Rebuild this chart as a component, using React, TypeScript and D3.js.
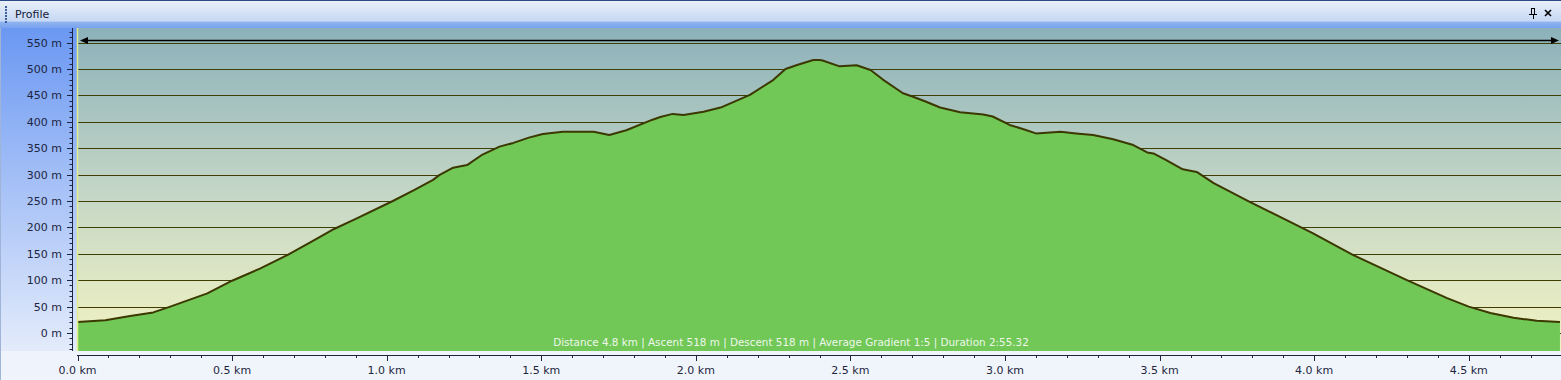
import React from "react";
import * as d3 from "d3";

const distKm = [
  0.0, 0.09, 0.17, 0.245, 0.3, 0.42, 0.5, 0.59, 0.68, 0.76, 0.83, 0.9, 1.02, 1.09, 1.15, 1.17,
  1.215, 1.26, 1.31, 1.365, 1.41, 1.46, 1.505, 1.57, 1.67, 1.72, 1.775, 1.86, 1.885, 1.925, 1.96,
  2.025, 2.08, 2.175, 2.25, 2.29, 2.33, 2.38, 2.4, 2.41, 2.465, 2.52, 2.565, 2.605, 2.67, 2.705,
  2.745, 2.79, 2.855, 2.93, 2.96, 3.015, 3.06, 3.1, 3.18, 3.23, 3.285, 3.35, 3.415, 3.46, 3.48,
  3.52, 3.575, 3.62, 3.675, 3.79, 3.855, 3.995, 4.125, 4.3, 4.43, 4.5, 4.57, 4.645, 4.72, 4.795,
];
const elevM = [
  21, 24, 32, 39, 50, 75, 99, 122, 148, 174, 197, 216, 250, 271, 290, 299,
  313, 318, 338, 353, 360, 370, 377, 381, 381, 375, 384, 404, 409, 415, 413,
  419, 427, 451, 479, 500, 508, 517, 517, 516, 505, 507, 498, 480, 454, 447,
  438, 427, 418, 414, 410, 394, 386, 378, 381, 378, 375, 367, 356, 342, 340,
  328, 310, 305, 284, 249, 230, 189, 148, 100, 66, 50, 38, 29, 23, 21,
];
const xTickKm = [0, 0.5, 1.0, 1.5, 2.0, 2.5, 3.0, 3.5, 4.0, 4.5];
const yTickM = [0, 50, 100, 150, 200, 250, 300, 350, 400, 450, 500, 550];
const titleText = "Profile";
const statsText =
  "Distance 4.8 km | Ascent 518 m | Descent 518 m | Average Gradient 1:5 | Duration 2:55.32";

const W = 1561;
const H = 380;
const plotL = 77;
const plotR = 1561;
const plotT = 28;
const plotB = 351;
const FONT = "'DejaVu Sans', Verdana, sans-serif";

export default function App() {
  const x = d3.scaleLinear().domain([0, 4.8]).range([77.5, 1561.5]);
  const y = d3.scaleLinear().domain([0, 550]).range([333, 42.6]);
  const pts = distKm.map((k, i) => ({ k, m: elevM[i] }));
  const area = d3
    .area<{ k: number; m: number }>()
    .x((d) => x(d.k))
    .y0(plotB)
    .y1((d) => y(d.m));
  const line = d3
    .line<{ k: number; m: number }>()
    .x((d) => x(d.k))
    .y((d) => y(d.m));
  const yMinor = d3.range(-30, 571, 10);
  const xMinor = d3.range(0, 48, 1).map((v) => v / 10);

  return (
    <div style={{ position: "absolute", left: 0, top: 0, width: W, height: H }}>
      <svg width={W} height={H} style={{ display: "block" }}>
        <defs>
          <linearGradient id="titleG" x1="0" y1="0" x2="0" y2="1">
            <stop offset="0" stopColor="#eaf0fa" />
            <stop offset="0.75" stopColor="#c6d8f4" />
            <stop offset="0.8" stopColor="#8fb3ef" />
            <stop offset="1" stopColor="#78a2ee" />
          </linearGradient>
          <linearGradient id="leftG" x1="0" y1="0" x2="0" y2="1">
            <stop offset="0" stopColor="#6b98f2" />
            <stop offset="1" stopColor="#eef3fc" />
          </linearGradient>
          <linearGradient id="plotG" x1="0" y1="0" x2="0" y2="1">
            <stop offset="0" stopColor="#8cb1ba" />
            <stop offset="0.5" stopColor="#c3d6c6" />
            <stop offset="1" stopColor="#f3f3c2" />
          </linearGradient>
        </defs>

        {/* page background */}
        <rect x={0} y={0} width={W} height={H} fill="#f1f5fc" />
        {/* left panel */}
        <rect x={0} y={plotT} width={plotL} height={H - plotT} fill="url(#leftG)" />
        <rect x={0} y={plotB} width={W} height={H - plotB} fill="#f0f4fb" opacity={0.85} />
        <line x1={0.5} y1={plotT} x2={0.5} y2={H} stroke="#9fb4d6" />

        {/* plot background */}
        <rect x={plotL} y={plotT} width={plotR - plotL} height={plotB - plotT} fill="url(#plotG)" />

        {/* grid lines */}
        {yTickM.map((v) => (
          <line
            key={"g" + v}
            x1={plotL}
            x2={plotR}
            y1={Math.round(y(v)) + 0.5}
            y2={Math.round(y(v)) + 0.5}
            stroke="#3f3f05"
            strokeWidth={1}
          />
        ))}

        {/* profile */}
        <path d={area(pts) || ""} fill="#71c857" />
        <path d={line(pts) || ""} fill="none" stroke="#3b3800" strokeWidth={2} strokeLinejoin="round" />

        {/* yellow left edge */}
        <line x1={77.5} y1={plotT} x2={77.5} y2={plotB} stroke="#e4ee86" strokeWidth={1.5} />

        {/* top arrow */}
        <line x1={84} x2={1553} y1={40.5} y2={40.5} stroke="#000" strokeWidth={1.5} />
        <path d="M80,40.5 L88,37 L88,44 Z" fill="#000" />
        <path d="M1559,40.5 L1551,37 L1551,44 Z" fill="#000" />

        {/* stats text */}
        <text x={791} y={346} textAnchor="middle" fontFamily={FONT} fontSize={10.4} fill="#eef7ea">
          {statsText}
        </text>

        {/* y axis */}
        <line x1={72.5} x2={72.5} y1={plotT} y2={plotB} stroke="#1c2440" />
        {yMinor.map((v) => (
          <line
            key={"ym" + v}
            x1={v % 50 === 0 ? 67 : 69.5}
            x2={73}
            y1={Math.round(y(v)) + 0.5}
            y2={Math.round(y(v)) + 0.5}
            stroke="#1c2440"
          />
        ))}
        {yTickM.map((v) => (
          <text
            key={"yl" + v}
            x={62}
            y={y(v) + 4}
            textAnchor="end"
            fontFamily={FONT}
            fontSize={11}
            fill="#1e2540"
          >
            {v} m
          </text>
        ))}

        {/* x axis */}
        <line x1={77} x2={plotR} y1={355.5} y2={355.5} stroke="#1c2440" />
        {xMinor.map((v) => (
          <line
            key={"xm" + v}
            x1={Math.round(x(v)) + 0.5}
            x2={Math.round(x(v)) + 0.5}
            y1={355}
            y2={Math.round(v * 10) % 5 === 0 ? 361 : 358}
            stroke="#1c2440"
          />
        ))}
        {xTickKm.map((v) => (
          <text
            key={"xl" + v}
            x={x(v)}
            y={374}
            textAnchor="middle"
            fontFamily={FONT}
            fontSize={11}
            fill="#1e2540"
          >
            {v.toFixed(1)} km
          </text>
        ))}

        {/* title bar */}
        <rect x={0} y={0} width={W} height={plotT} fill="url(#titleG)" />
        <line x1={0} x2={W} y1={0.5} y2={0.5} stroke="#2a4a86" />
        {d3.range(6, 23, 3).map((yy) => (
          <rect key={"gr" + yy} x={5} y={yy} width={2} height={2} fill="#3c5f9e" />
        ))}
        <text x={15} y={17.5} fontFamily={FONT} fontSize={11} fill="#15203a">
          {titleText}
        </text>
        {/* pin icon */}
        <g stroke="#000" strokeWidth={1} fill="none">
          <line x1={1529} x2={1537} y1={14.5} y2={14.5} />
          <rect x={1531.5} y={8.5} width={3} height={6} />
          <line x1={1533.5} x2={1533.5} y1={15} y2={19} />
        </g>
        {/* close icon */}
        <g stroke="#000" strokeWidth={1.6}>
          <line x1={1545} x2={1551} y1={10} y2={16} />
          <line x1={1551} x2={1545} y1={10} y2={16} />
        </g>
      </svg>
    </div>
  );
}
